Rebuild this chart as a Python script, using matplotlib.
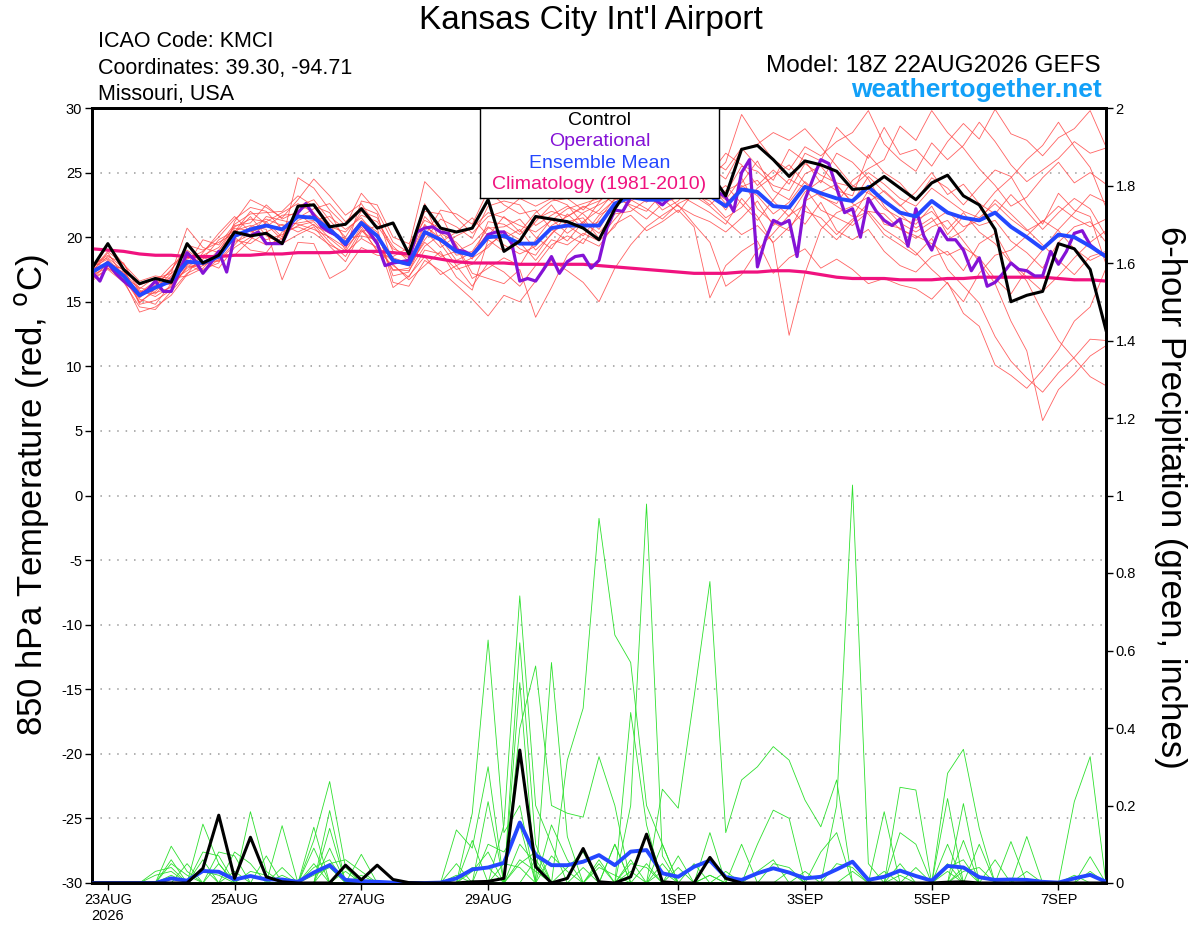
import numpy as np
import matplotlib.pyplot as plt

plt.rcParams['font.family'] = ['Liberation Sans', 'DejaVu Sans']
plt.rcParams['axes.unicode_minus'] = False

# forecast hours after 18Z 22AUG2026 (6-hourly ensemble, 3-hourly operational)
hours = np.arange(0, 385, 6)
hours_op = np.arange(0, 385, 3)

tick_hours = [6, 54, 102, 150, 222, 270, 318, 366]
tick_labels = ['23AUG\n2026', '25AUG', '27AUG', '29AUG', '1SEP', '3SEP', '5SEP', '7SEP']

# 850 hPa temperature (C)
control_t = [17.6, 19.5, 17.5, 16.4, 16.8, 16.5, 19.5, 18.0, 18.6, 20.4, 20.1, 20.3, 19.5,
             22.4, 22.5, 20.8, 21.0, 22.2, 20.7, 21.1, 18.7, 22.4, 20.7, 20.4, 20.7, 22.9,
             18.9, 19.7, 21.6, 21.4, 21.2, 20.7, 19.8, 22.2, 24.0, 24.3, 24.6, 25.0, 25.2,
             25.0, 23.2, 26.8, 27.1, 26.0, 24.7, 25.9, 25.6, 25.1, 23.7, 23.8, 24.7, 23.8,
             22.9, 24.2, 24.8, 23.2, 22.5, 20.6, 15.0, 15.5, 15.8, 19.5, 19.1, 17.5, 12.8]

operational_t = [17.3, 16.6, 18.0, 17.2, 16.6, 16.1, 15.5, 15.9, 16.6, 15.8, 15.8, 17.3, 18.8,
                 18.2, 17.2, 18.0, 18.9, 17.3, 20.1, 20.3, 20.1, 20.4, 19.5, 19.5, 19.5, 20.8,
                 21.9, 22.6, 21.7, 20.8, 20.4, 20.1, 19.4, 20.4, 21.1, 20.4, 19.5, 17.8, 18.0,
                 18.1, 18.2, 20.4, 20.7, 20.8, 20.4, 20.3, 19.0, 18.9, 18.6, 19.3, 20.2, 20.4,
                 20.4, 19.5, 16.6, 16.8, 16.6, 17.5, 18.5, 17.2, 18.1, 18.5, 18.6, 17.6, 18.2,
                 20.7, 22.1, 22.0, 23.1, 23.3, 22.9, 22.9, 22.5, 23.1, 23.5, 23.8, 23.4, 23.6,
                 23.8, 23.5, 23.1, 22.0, 25.0, 26.0, 17.7, 19.8, 21.3, 21.0, 21.3, 18.5, 22.9,
                 24.5, 26.0, 25.7, 23.8, 21.9, 22.2, 20.0, 23.0, 22.0, 21.3, 20.9, 21.4, 19.3,
                 22.2, 20.1, 19.0, 20.7, 19.8, 19.8, 19.0, 17.4, 18.4, 16.2, 16.5, 17.2, 18.0,
                 17.5, 17.4, 17.0, 17.0, 18.9, 17.9, 18.9, 20.3, 20.5, 19.4, 18.9, 18.5]

mean_t = [17.3, 18.0, 17.0, 15.5, 16.1, 16.6, 18.1, 18.0, 18.5, 20.1, 20.6, 20.9, 20.6,
          21.6, 21.5, 20.6, 19.5, 21.1, 20.1, 18.2, 17.9, 20.4, 19.8, 18.9, 18.6, 20.0,
          20.1, 19.5, 19.5, 20.7, 20.9, 20.9, 20.9, 22.6, 23.1, 22.9, 22.9, 23.2, 23.4,
          23.2, 22.4, 23.7, 23.5, 22.4, 22.3, 23.9, 23.4, 23.0, 22.8, 23.9, 22.8, 21.9,
          21.6, 22.8, 21.9, 21.5, 21.3, 21.9, 20.8, 20.0, 19.1, 20.2, 20.0, 19.3, 18.5]

climo_t = [19.1, 19.0, 18.9, 18.7, 18.6, 18.6, 18.5, 18.5, 18.5, 18.6, 18.6, 18.7, 18.7,
           18.8, 18.8, 18.8, 18.9, 18.9, 18.9, 18.8, 18.7, 18.5, 18.3, 18.1, 18.0, 18.0,
           18.0, 17.9, 17.9, 17.9, 17.9, 17.9, 17.8, 17.7, 17.6, 17.5, 17.4, 17.3, 17.2,
           17.2, 17.2, 17.3, 17.3, 17.4, 17.4, 17.3, 17.1, 16.9, 16.8, 16.8, 16.8, 16.7,
           16.7, 16.7, 16.8, 16.8, 16.9, 16.9, 16.9, 16.9, 16.9, 16.8, 16.7, 16.7, 16.6]

members_t = [
    [17.0, 18.2, 16.8, 15.0, 15.8, 17.0, 18.5, 18.6, 19.2, 20.8, 21.4, 21.2, 20.0,
     22.4, 22.9, 21.3, 20.0, 22.0, 21.5, 18.9, 18.4, 21.6, 20.3, 19.6, 18.3, 21.2,
     21.0, 20.2, 21.4, 22.0, 21.6, 22.3, 22.8, 23.9, 24.6, 24.1, 23.5, 24.2, 24.8,
     24.3, 23.4, 25.5, 25.1, 24.0, 23.6, 25.7, 24.8, 24.2, 23.9, 25.0, 24.1, 23.0,
     22.4, 23.8, 22.9, 22.0, 21.5, 22.6, 21.4, 20.5, 21.2, 22.4, 21.5, 20.8, 21.4],
    [17.6, 17.8, 17.3, 15.9, 15.4, 16.2, 17.6, 17.9, 18.2, 19.6, 20.2, 21.6, 21.3,
     21.0, 20.6, 20.0, 19.2, 20.5, 19.6, 17.4, 17.6, 19.8, 21.4, 20.8, 19.9, 22.4,
     22.8, 22.5, 20.9, 21.7, 22.4, 21.8, 20.6, 22.7, 23.3, 24.8, 24.5, 23.6, 25.1,
     24.6, 25.8, 29.5, 27.6, 26.0, 25.2, 27.0, 26.3, 27.4, 28.1, 29.8, 27.2, 26.0,
     25.1, 27.3, 26.0, 27.1, 28.9, 27.4, 25.6, 24.3, 25.2, 26.1, 27.4, 26.5, 26.9],
    [16.8, 17.5, 16.5, 14.6, 14.4, 15.8, 17.2, 17.8, 19.0, 20.4, 22.0, 21.0, 19.8,
     24.6, 23.8, 22.1, 20.9, 23.4, 22.0, 19.6, 18.8, 22.6, 19.5, 17.8, 16.2, 18.0,
     17.3, 16.2, 17.8, 19.4, 20.1, 19.5, 21.4, 23.0, 22.5, 22.0, 23.4, 24.6, 23.3,
     22.8, 21.5, 22.3, 23.8, 24.7, 25.6, 24.2, 23.1, 22.6, 24.4, 25.3, 26.0, 28.6,
     27.5, 29.8, 28.1, 26.9, 25.3, 24.0, 22.4, 23.1, 24.6, 25.8, 24.2, 25.0, 24.1],
    [17.8, 18.6, 17.6, 16.3, 16.8, 17.2, 20.7, 19.2, 18.8, 19.8, 19.5, 20.4, 21.0,
     20.4, 21.0, 19.6, 18.5, 20.6, 19.0, 17.8, 16.9, 19.0, 18.7, 17.5, 17.9, 19.4,
     20.2, 19.1, 18.6, 20.3, 21.2, 21.5, 19.9, 21.4, 22.8, 23.5, 22.1, 22.8, 24.3,
     23.7, 22.9, 24.6, 22.2, 21.1, 20.5, 22.8, 23.5, 24.1, 22.6, 21.8, 20.2, 19.4,
     18.6, 19.9, 17.5, 16.2, 14.9, 12.3, 10.4, 9.1, 8.0, 9.5, 10.7, 12.1, 12.0],
    [16.6, 17.6, 16.9, 15.2, 14.8, 16.4, 18.0, 17.5, 18.0, 21.2, 22.9, 22.3, 21.5,
     22.9, 24.5, 23.2, 21.7, 22.6, 20.7, 16.5, 16.2, 18.2, 17.4, 16.3, 15.2, 13.9,
     15.5, 15.0, 16.6, 18.2, 17.4, 16.5, 15.0, 17.6, 19.4, 20.8, 21.7, 22.5, 21.0,
     19.6, 16.2, 17.1, 19.0, 20.3, 21.7, 22.5, 20.9, 19.8, 21.2, 22.7, 23.6, 22.5,
     21.3, 22.0, 20.6, 21.9, 20.4, 19.5, 18.0, 16.6, 14.2, 12.0, 10.6, 9.2, 8.5],
    [17.4, 19.4, 17.9, 16.0, 16.9, 16.6, 17.4, 18.3, 19.8, 20.5, 20.9, 20.6, 16.7,
     19.6, 19.5, 16.8, 17.5, 19.2, 18.6, 18.5, 19.2, 24.3, 23.0, 21.5, 20.3, 21.6,
     22.0, 23.0, 22.4, 23.0, 22.5, 21.0, 22.7, 24.0, 25.0, 25.4, 24.9, 23.3, 22.6,
     21.9, 21.0, 23.0, 21.6, 19.5, 12.4, 17.2, 20.6, 21.9, 22.4, 23.1, 21.0, 20.7,
     19.9, 20.8, 21.3, 19.7, 18.1, 16.4, 13.5, 11.2, 5.8, 8.2, 9.4, 10.8, 11.6],
    [17.2, 18.1, 17.2, 15.4, 16.2, 17.5, 19.0, 18.1, 17.6, 19.2, 20.0, 19.4, 19.9,
     21.3, 21.8, 20.8, 20.4, 21.7, 21.2, 19.3, 18.1, 20.9, 19.9, 18.2, 18.8, 20.3,
     19.4, 18.7, 19.3, 20.9, 21.6, 22.4, 21.8, 22.9, 23.6, 22.7, 23.8, 24.9, 25.8,
     25.4, 24.5, 26.8, 27.2, 28.1, 27.5, 28.4, 27.0, 25.5, 24.0, 23.4, 22.7, 21.8,
     20.7, 21.5, 19.8, 20.5, 22.0, 23.5, 24.6, 26.0, 27.1, 28.9, 27.0, 25.4, 22.3],
    [17.9, 18.4, 17.4, 14.8, 15.1, 15.9, 17.8, 19.8, 19.4, 21.0, 21.8, 21.9, 22.0,
     23.2, 22.4, 21.9, 19.7, 21.3, 20.4, 17.0, 17.3, 20.1, 22.1, 21.8, 21.0, 23.6,
     22.5, 21.8, 22.1, 20.6, 19.7, 21.2, 22.1, 23.5, 22.3, 21.4, 22.6, 23.1, 24.0,
     23.1, 24.0, 22.6, 21.3, 22.9, 24.5, 23.8, 22.1, 21.5, 20.9, 22.0, 20.6, 19.8,
     18.8, 17.5, 16.4, 15.0, 17.2, 18.6, 19.0, 20.1, 21.3, 20.5, 19.1, 18.2, 18.8],
    [16.9, 17.9, 16.6, 15.6, 16.5, 17.8, 18.8, 17.8, 18.4, 20.0, 19.0, 18.8, 20.4,
     20.8, 20.3, 19.4, 18.8, 19.9, 19.2, 18.1, 17.8, 19.6, 18.5, 18.9, 19.5, 20.8,
     19.9, 20.6, 19.0, 20.2, 21.8, 20.7, 21.2, 22.2, 24.0, 24.3, 23.0, 21.9, 23.5,
     22.5, 23.6, 24.2, 25.9, 23.6, 22.9, 24.9, 25.5, 24.0, 22.7, 24.7, 23.5, 22.4,
     23.5, 25.0, 23.3, 24.1, 22.6, 21.8, 23.3, 22.0, 20.6, 21.9, 23.0, 22.2, 20.1],
    [17.5, 18.9, 17.9, 16.6, 17.0, 16.8, 17.0, 17.6, 18.9, 20.9, 21.1, 22.5, 21.4,
     22.0, 22.6, 21.0, 19.0, 22.8, 22.5, 20.0, 19.5, 21.3, 20.7, 19.4, 17.2, 16.8,
     16.4, 17.5, 13.8, 16.1, 18.6, 19.9, 19.3, 21.0, 21.7, 20.5, 21.2, 22.1, 20.8,
     15.3, 17.8, 18.9, 19.7, 17.2, 18.4, 19.1, 17.6, 18.3, 17.5, 16.4, 16.8, 16.3,
     16.0, 15.2, 16.5, 14.1, 13.1, 10.1, 9.3, 8.3, 9.7, 11.3, 13.5, 14.6, 17.6],
    [17.1, 17.6, 16.7, 14.2, 14.6, 15.5, 17.1, 18.8, 20.3, 21.6, 20.4, 20.8, 21.7,
     21.8, 20.9, 20.3, 19.9, 20.1, 19.8, 16.1, 17.0, 18.5, 17.1, 17.8, 18.4, 19.2,
     20.5, 19.8, 21.2, 22.5, 20.9, 20.1, 21.7, 22.4, 23.1, 23.6, 24.2, 23.7, 24.6,
     24.0, 22.6, 23.9, 24.4, 22.8, 21.6, 23.5, 24.4, 23.6, 23.2, 26.4, 25.0, 24.2,
     22.8, 24.6, 23.8, 22.5, 23.9, 25.2, 24.7, 22.6, 21.0, 23.4, 22.1, 21.6, 17.9],
    [17.7, 18.3, 17.0, 15.8, 15.6, 16.9, 18.4, 18.4, 18.1, 19.4, 20.8, 21.4, 20.9,
     21.1, 21.3, 21.6, 20.6, 21.5, 20.0, 18.4, 18.0, 20.5, 19.2, 20.1, 20.7, 21.9,
     21.5, 20.9, 20.4, 21.3, 22.2, 22.6, 23.0, 24.3, 24.8, 23.4, 22.8, 24.5, 25.4,
     26.0, 25.2, 26.9, 25.5, 24.4, 26.8, 25.9, 24.2, 26.5, 25.8, 24.5, 22.4, 21.1,
     20.4, 21.2, 22.0, 20.8, 21.3, 22.9, 21.8, 20.6, 19.4, 18.2, 17.1, 18.5, 18.9],
    [16.7, 18.0, 17.5, 15.3, 16.3, 17.4, 19.4, 19.0, 19.6, 20.3, 21.6, 20.1, 19.5,
     20.2, 20.8, 19.3, 18.1, 20.4, 20.9, 19.1, 18.6, 22.0, 21.8, 19.3, 16.8, 17.6,
     18.4, 17.8, 19.8, 21.4, 20.3, 21.2, 20.3, 21.8, 22.0, 22.9, 23.6, 22.4, 21.7,
     21.2, 20.4, 21.5, 22.8, 20.9, 22.3, 21.0, 22.7, 20.5, 19.8, 20.6, 18.9, 17.8,
     17.3, 18.5, 18.9, 17.4, 19.5, 20.3, 18.1, 16.9, 15.8, 17.0, 18.4, 19.6, 20.5],
    [17.3, 18.8, 16.9, 16.1, 15.7, 16.1, 17.7, 17.9, 18.6, 18.6, 19.8, 21.2, 21.9,
     22.6, 21.9, 20.5, 19.4, 21.0, 19.4, 17.5, 17.4, 19.3, 20.2, 18.6, 18.9, 20.7,
     20.8, 21.4, 20.0, 19.1, 20.8, 21.9, 22.5, 23.2, 23.4, 24.1, 23.9, 23.9, 24.4,
     23.6, 22.1, 24.0, 23.2, 21.8, 22.7, 24.3, 23.2, 22.4, 21.6, 23.6, 22.2, 21.5,
     21.0, 22.4, 20.2, 21.6, 20.9, 21.3, 19.7, 18.8, 17.6, 19.6, 20.8, 21.2, 19.6],
    [18.0, 17.7, 17.6, 14.9, 16.0, 17.2, 18.3, 18.9, 20.0, 21.4, 22.3, 22.0, 20.6,
     21.5, 22.2, 22.6, 21.2, 22.3, 21.8, 17.9, 16.7, 17.8, 18.9, 16.9, 15.9, 19.8,
     18.9, 19.6, 18.2, 19.8, 19.4, 20.3, 19.7, 20.8, 22.9, 22.2, 21.4, 22.6, 23.2,
     22.4, 21.3, 20.2, 20.9, 19.6, 20.8, 22.0, 21.5, 20.2, 21.4, 22.0, 21.8, 20.6,
     20.1, 19.5, 18.6, 19.2, 18.4, 16.8, 15.6, 17.5, 19.0, 20.6, 21.9, 23.3, 22.7],
    [17.4, 18.5, 18.0, 15.7, 16.6, 16.3, 17.9, 17.3, 18.3, 20.7, 20.5, 19.8, 20.2,
     20.9, 21.2, 19.9, 18.9, 20.8, 18.9, 18.8, 18.5, 21.0, 19.6, 20.4, 21.5, 20.1,
     21.6, 20.4, 21.9, 22.8, 23.0, 22.1, 23.4, 22.6, 23.7, 24.7, 25.3, 24.0, 23.9,
     24.9, 26.5, 25.6, 24.0, 25.2, 24.1, 26.5, 25.9, 28.5, 27.2, 26.1, 28.5, 26.4,
     26.8, 25.5, 27.4, 28.8, 27.6, 29.9, 28.0, 27.5, 26.3, 27.7, 28.4, 29.8, 27.0],
]

# 6-hour precipitation (inches)
control_p = [0, 0, 0, 0, 0, 0, 0, .038, .175, .012, .118, .016, .003,
             0, 0, 0, .046, .008, .046, .009, .001, 0, 0, 0, .003, .004,
             .012, .343, .042, 0, .012, .089, .003, 0, .016, .126, .003, 0, 0,
             .066, .012, 0, 0, 0, 0, 0, 0, 0, 0, 0, 0, 0,
             0, 0, .002, .003, 0, 0, 0, 0, 0, 0, 0, 0, 0]

mean_p = [0, 0, 0, 0, 0, .012, .006, .031, .029, .009, .018, .009, .009,
          .003, .027, .046, .008, .005, .003, .001, 0, 0, .001, .012, .035, .04,
          .052, .156, .072, .046, .046, .055, .072, .046, .081, .085, .025, .016, .042,
          .058, .015, .008, .025, .038, .027, .012, .016, .035, .055, .008, .016, .032,
          .018, .006, .044, .04, .015, .008, .009, .008, .003, .001, .012, .021, .003]

members_p = [
    [0, 0, 0, 0, 0, .095, .03, 0, 0, 0, 0, 0, 0,
     0, .11, .262, .04, 0, 0, 0, 0, 0, 0, 0, .18, .627,
     .13, .2, 0, 0, 0, 0, 0, .1, 0, 0, .1, 0, 0,
     0, 0, 0, 0, 0, 0, 0, 0, .2, 1.027, .05, 0, 0,
     0, 0, 0, .11, 0, 0, 0, 0, 0, 0, 0, 0, 0],
    [0, 0, 0, 0, 0, 0, 0, .152, .05, 0, 0, 0, 0,
     0, 0, .187, 0, 0, 0, 0, 0, 0, 0, 0, .11, 0,
     .15, .741, .2, .1, 0, 0, 0, 0, .2, .978, .07, 0, 0,
     0, 0, 0, 0, 0, 0, 0, 0, 0, 0, 0, 0, 0,
     0, 0, .1, 0, 0, 0, 0, 0, 0, 0, .21, .326, 0],
    [0, 0, 0, 0, 0, 0, 0, 0, 0, 0, .184, .03, 0,
     0, .144, 0, 0, 0, 0, 0, 0, 0, 0, .137, .09, .3,
     0, .62, .1, 0, .317, .451, .941, .64, .569, .2, .1, 0, 0,
     0, 0, 0, 0, 0, 0, 0, 0, 0, 0, 0, 0, 0,
     0, 0, .283, .345, .141, 0, 0, 0, 0, 0, 0, 0, 0],
    [0, 0, 0, 0, 0, 0, 0, 0, 0, 0, 0, 0, .148,
     0, 0, .141, 0, .074, 0, 0, 0, 0, 0, 0, 0, .21,
     0, .517, 0, .569, .12, 0, 0, 0, .44, .15, 0, 0, 0,
     0, 0, .1, 0, 0, 0, 0, 0, 0, 0, 0, 0, .247,
     .24, 0, 0, .205, 0, 0, .107, 0, 0, 0, 0, 0, 0],
    [0, 0, 0, 0, 0, .06, 0, .08, .07, 0, 0, 0, 0,
     0, 0, .09, 0, 0, 0, 0, 0, 0, 0, 0, 0, 0,
     0, .399, .56, .2, .18, .17, .326, .2, 0, 0, .242, .193, .48,
     .778, .13, .266, .3, .352, .317, .214, .145, .266, 0, 0, .184, 0,
     0, 0, .218, 0, 0, 0, 0, .12, 0, 0, 0, 0, 0],
    [0, 0, 0, 0, .03, .04, 0, .06, 0, .08, .05, 0, 0,
     0, .09, 0, 0, 0, 0, 0, 0, 0, 0, 0, 0, .1,
     .08, .15, 0, .15, .06, 0, 0, .1, 0, 0, 0, .07, 0,
     .13, 0, 0, .1, .188, .167, 0, .08, .13, 0, 0, 0, .13,
     .1, 0, 0, 0, .1, 0, 0, 0, 0, 0, 0, .068, 0],
    [0, 0, 0, 0, 0, 0, .05, 0, .08, .07, 0, 0, .04,
     0, 0, .05, .06, .03, 0, 0, 0, 0, 0, .05, 0, 0,
     0, .05, .08, 0, 0, .04, 0, 0, 0, .05, 0, 0, .05,
     0, .03, 0, 0, 0, 0, .03, 0, 0, 0, 0, .03, 0,
     0, 0, .04, .06, 0, 0, 0, 0, 0, 0, 0, 0, 0],
    [0, 0, 0, 0, 0, .02, 0, .04, 0, .03, 0, .07, 0,
     0, .05, 0, 0, 0, 0, 0, 0, 0, 0, 0, .04, .04,
     0, .1, .05, 0, 0, 0, .05, 0, .06, 0, .03, 0, 0,
     0, 0, 0, 0, .05, .04, 0, 0, 0, .03, 0, 0, .05,
     0, 0, 0, .03, .04, 0, 0, 0, 0, 0, 0, 0, 0],
    [0, 0, 0, 0, .02, .03, 0, 0, .05, 0, 0, 0, .02,
     0, .04, .06, 0, 0, 0, 0, 0, 0, 0, 0, 0, 0,
     .05, .04, 0, .07, .03, 0, .06, 0, .03, 0, 0, .04, 0,
     .02, 0, 0, 0, 0, 0, 0, 0, .05, .04, 0, 0, 0,
     0, 0, .05, 0, 0, .06, 0, 0, 0, 0, 0, .03, 0],
    [0, 0, 0, 0, 0, .05, .02, 0, 0, 0, .03, .02, 0,
     0, 0, 0, .03, 0, 0, 0, 0, 0, 0, 0, .03, .08,
     0, 0, .06, 0, .04, .08, 0, 0, .05, .04, 0, 0, 0,
     0, 0, 0, .03, .06, 0, 0, 0, 0, 0, 0, 0, 0,
     .04, 0, 0, .04, 0, 0, 0, .03, 0, 0, 0, 0, 0],
    [0, 0, 0, 0, 0, 0, 0, .03, .02, 0, 0, 0, 0,
     0, .02, .04, 0, .02, 0, 0, 0, 0, 0, .02, 0, 0,
     0, .06, .03, 0, 0, 0, .04, .02, 0, 0, .05, 0, 0,
     .02, 0, 0, 0, 0, .03, 0, 0, 0, 0, 0, 0, .02,
     0, 0, .03, 0, 0, 0, 0, 0, 0, 0, .02, 0, 0],
]

RED = '#ff4646'
GREEN = '#2ee02e'
PURPLE = '#8412d6'
BLUE = '#2447ff'
MAGENTA = '#f0127f'

W, H = 1200, 927
fig = plt.figure(figsize=(W / 100, H / 100), dpi=100)
ax = fig.add_axes([92 / W, 44 / H, 1014 / W, 775 / H])
ax2 = ax.twinx()

# temperature (left axis)
for m in members_t:
    ax.plot(hours, m, color=RED, lw=0.6, alpha=0.85, zorder=1)
ax.plot(hours, climo_t, color=MAGENTA, lw=2.3, zorder=3)
ax.plot(hours_op, operational_t, color=PURPLE, lw=2.3, zorder=4)
ax.plot(hours, mean_t, color=BLUE, lw=2.8, zorder=5)
ax.plot(hours, control_t, color='black', lw=2.2, zorder=6)

# precipitation (right axis)
for m in members_p:
    ax2.plot(hours, m, color=GREEN, lw=0.6, zorder=1)
ax2.plot(hours, mean_p, color=BLUE, lw=2.8, zorder=5)
ax2.plot(hours, control_p, color='black', lw=2.2, zorder=6)

ax.set_xlim(0, 384)
ax.set_ylim(-30, 30)
ax2.set_ylim(0, 2)
ax.set_yticks(np.arange(-30, 31, 5))
ax2.set_yticks(np.arange(0, 2.01, 0.2))
ax2.set_yticklabels(['0', '0.2', '0.4', '0.6', '0.8', '1', '1.2', '1.4', '1.6', '1.8', '2'])
ax.set_xticks(tick_hours)
ax.set_xticklabels(tick_labels, linespacing=1.2)

ax.yaxis.grid(True, linestyle=(0, (1, 4.5)), color='#9a9a9a', lw=1.1)
ax.set_axisbelow(True)

for a in (ax, ax2):
    for s in a.spines.values():
        s.set_linewidth(2)
    a.tick_params(direction='out', length=5, width=1, labelsize=10.5, pad=2)

# header text
fig.text(591 / W, 1 - 29 / H, "Kansas City Int'l Airport", ha='center', va='baseline', fontsize=24)
fig.text(98 / W, 1 - 47 / H, 'ICAO Code: KMCI', ha='left', va='baseline', fontsize=15.5)
fig.text(98 / W, 1 - 74 / H, 'Coordinates: 39.30, -94.71', ha='left', va='baseline', fontsize=15.5)
fig.text(98 / W, 1 - 100 / H, 'Missouri, USA', ha='left', va='baseline', fontsize=15.5)
fig.text(1101 / W, 1 - 72 / H, 'Model: 18Z 22AUG2026 GEFS', ha='right', va='baseline', fontsize=17.5)
fig.text(1102 / W, 1 - 97 / H, 'weathertogether.net', ha='right', va='baseline',
         fontsize=19, fontweight='bold', color='#12a0f8')

fig.text(32 / W, 1 - 495 / H, r'850 hPa Temperature (red, $^{\rm o}$C)', rotation=90,
         ha='center', va='center', fontsize=25)
fig.text(1170 / W, 1 - 497 / H, '6-hour Precipitation (green, inches)', rotation=270,
         ha='center', va='center', fontsize=25)

# legend box
leg = fig.add_axes([480 / W, (H - 198) / H, 239 / W, 90 / H])
leg.set_xticks([])
leg.set_yticks([])
leg.set_facecolor('white')
for s in leg.spines.values():
    s.set_linewidth(1)
for yy, txt, col in [(0.86, 'Control', 'black'), (0.625, 'Operational', PURPLE),
                     (0.385, 'Ensemble Mean', BLUE), (0.145, 'Climatology (1981-2010)', MAGENTA)]:
    leg.text(0.5, yy, txt, color=col, ha='center', va='center', fontsize=14,
             transform=leg.transAxes)

fig.savefig('out.png', dpi=100)
